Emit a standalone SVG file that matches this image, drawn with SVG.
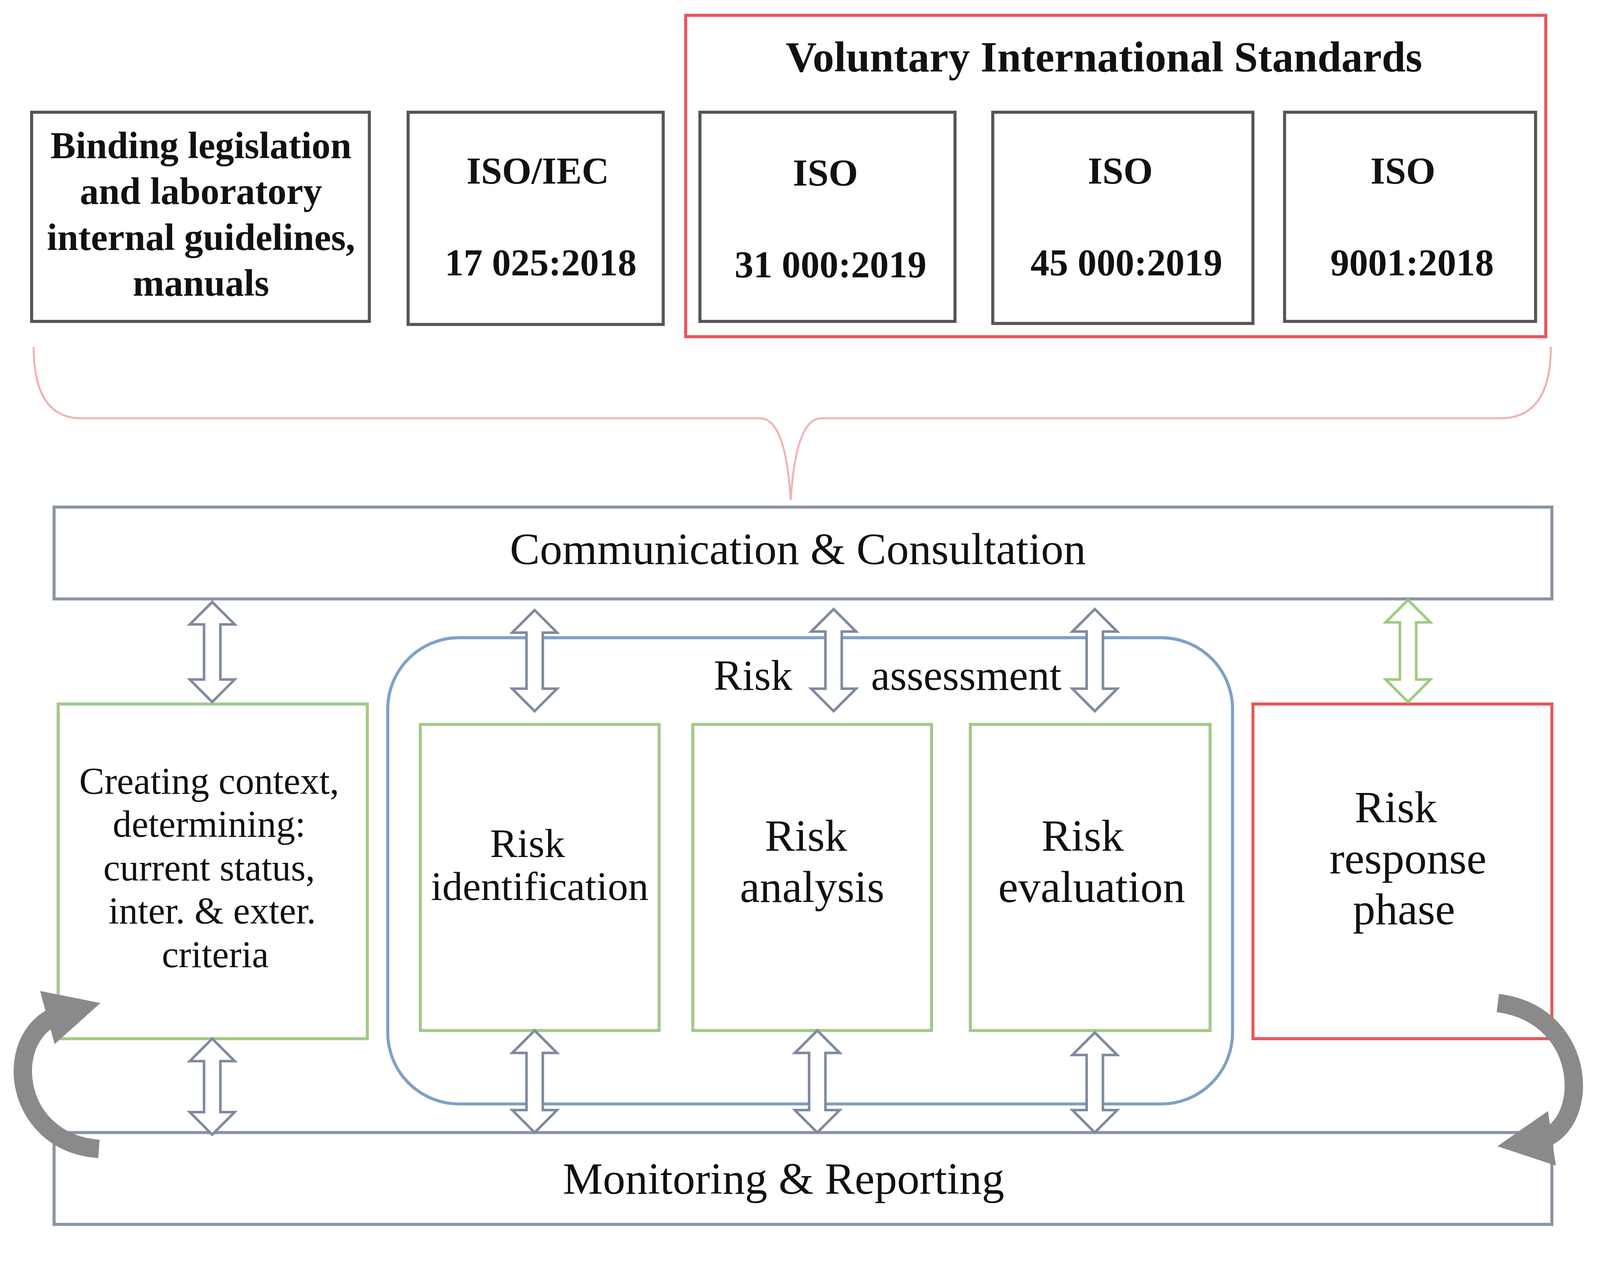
<svg xmlns="http://www.w3.org/2000/svg" width="4221" height="3264" viewBox="0 0 4221 3264">
<defs>
<style>
.dk{fill:#fff;stroke:#555;stroke-width:3}
.bt{font-family:"Liberation Serif",serif;font-weight:bold;font-size:37px;text-anchor:middle;fill:#111}
.rt{font-family:"Liberation Serif",serif;font-size:40px;text-anchor:middle;fill:#111}
.gr{fill:#fff;stroke:#a3c98a;stroke-width:3}
.bl{fill:none;stroke:#8a94a8;stroke-width:3}
.da{fill:#fff;stroke:#7f8aa0;stroke-width:2.5}
.ca{fill:none;stroke:#8a8a8a;stroke-width:18}
</style>
<marker id="ah" viewBox="0 0 10 10" refX="3" refY="5" markerWidth="3" markerHeight="3" orient="auto" markerUnits="strokeWidth"><path d="M0,0 L10,5 L0,10 Z" fill="#8a8a8a"/></marker>
</defs>
<rect width="4221" height="3264" fill="#fff"/>
<g transform="scale(2.612,2.612)">
<g id="binding"><rect class="dk" x="31" y="110" width="331" height="205"/>
<text class="bt" x="197" y="155">Binding legislation</text><text class="bt" x="197" y="200">and laboratory</text><text class="bt" x="197" y="245">internal guidelines,</text><text class="bt" x="197" y="290">manuals</text></g>
<g id="isoiec"><rect class="dk" x="400" y="110" width="250" height="208"/><text class="bt" x="527" y="180">ISO/IEC</text><text class="bt" x="530" y="270">17 025:2018</text></g>
<g id="voluntary"><rect x="672" y="15" width="843" height="315" fill="none" stroke="#e8575a" stroke-width="3"/>
<text class="bt" x="1082" y="70" style="font-size:42px">Voluntary International Standards</text></g>
<g id="iso31000"><rect class="dk" x="686" y="110" width="250" height="205"/><text class="bt" x="809" y="182">ISO</text><text class="bt" x="814" y="272">31 000:2019</text></g>
<g id="iso45000"><rect class="dk" x="973" y="110" width="255" height="207"/><text class="bt" x="1098" y="180">ISO</text><text class="bt" x="1104" y="270">45 000:2019</text></g>
<g id="iso9001"><rect class="dk" x="1259" y="110" width="246" height="205"/><text class="bt" x="1375" y="180">ISO</text><text class="bt" x="1384" y="270">9001:2018</text></g>
<g id="brace"><path d="M33,340 Q33,410 80,410 L745,410 Q770,410 775,490 Q780,410 805,410 L1470,410 Q1520,410 1520,340" fill="none" stroke="#f2b3b5" stroke-width="2"/></g>
<g id="communication"><rect class="bl" x="53" y="497" width="1468" height="90"/><text class="rt" x="782" y="553" style="font-size:44px">Communication &amp; Consultation</text></g>
<g id="riskassessment"><rect x="380" y="625" width="828" height="457" rx="70" fill="none" stroke="#7fa0c8" stroke-width="3"/>
<text class="rt" x="738" y="676" style="font-size:42px">Risk</text><text class="rt" x="947" y="676" style="font-size:42px">assessment</text></g>
<g id="context"><rect class="gr" x="57" y="690" width="303" height="328"/>
<text class="rt" x="205" y="778" style="font-size:37px">Creating context,</text><text class="rt" x="205" y="820" style="font-size:37px">determining:</text><text class="rt" x="205" y="863" style="font-size:37px">current status,</text><text class="rt" x="208" y="905" style="font-size:37px">inter. &amp; exter.</text><text class="rt" x="211" y="948" style="font-size:37px">criteria</text></g>
<g id="identification"><rect class="gr" x="412" y="710" width="234" height="300"/><text class="rt" x="517" y="840">Risk</text><text class="rt" x="529" y="882">identification</text></g>
<g id="analysis"><rect class="gr" x="679" y="710" width="234" height="300"/><text class="rt" x="790" y="834" style="font-size:44px">Risk</text><text class="rt" x="796" y="884" style="font-size:44px">analysis</text></g>
<g id="evaluation"><rect class="gr" x="951" y="710" width="235" height="300"/><text class="rt" x="1061" y="834" style="font-size:44px">Risk</text><text class="rt" x="1070" y="884" style="font-size:44px">evaluation</text></g>
<g id="response"><rect x="1228" y="690" width="293" height="328" fill="#fff" stroke="#e8575a" stroke-width="3"/><text class="rt" x="1368" y="806" style="font-size:44px">Risk</text><text class="rt" x="1380" y="856" style="font-size:44px">response</text><text class="rt" x="1376" y="906" style="font-size:44px">phase</text></g>
<g id="monitoring"><rect class="bl" x="53" y="1110" width="1468" height="90"/><text class="rt" x="768" y="1170" style="font-size:44px">Monitoring &amp; Reporting</text></g>
<g id="connectors">
<path class="da" d="M208,590 L230,612 L216,612 L216,666 L230,666 L208,688 L186,666 L200,666 L200,612 L186,612 Z"/>
<path class="da" d="M524,598 L546,620 L532,620 L532,675 L546,675 L524,697 L502,675 L516,675 L516,620 L502,620 Z"/>
<path class="da" d="M817,597 L839,619 L825,619 L825,675 L839,675 L817,697 L795,675 L809,675 L809,619 L795,619 Z"/>
<path class="da" d="M1073,597 L1095,619 L1081,619 L1081,675 L1095,675 L1073,697 L1051,675 L1065,675 L1065,619 L1051,619 Z"/>
<path class="da" style="stroke:#9bcb7c" d="M1380,588 L1402,610 L1388,610 L1388,666 L1402,666 L1380,688 L1358,666 L1372,666 L1372,610 L1358,610 Z"/>
<path class="da" d="M208,1018 L230,1040 L216,1040 L216,1090 L230,1090 L208,1112 L186,1090 L200,1090 L200,1040 L186,1040 Z"/>
<path class="da" d="M524,1010 L546,1032 L532,1032 L532,1088 L546,1088 L524,1110 L502,1088 L516,1088 L516,1032 L502,1032 Z"/>
<path class="da" d="M801,1010 L823,1032 L809,1032 L809,1088 L823,1088 L801,1110 L779,1088 L793,1088 L793,1032 L779,1032 Z"/>
<path class="da" d="M1073,1012 L1095,1034 L1081,1034 L1081,1088 L1095,1088 L1073,1110 L1051,1088 L1065,1088 L1065,1034 L1051,1034 Z"/>
<path class="ca" d="M97,1126 C10,1120 0,1010 62,993" marker-end="url(#ah)"/>
<path class="ca" d="M1468,983 C1560,995 1560,1110 1505,1118" marker-end="url(#ah)"/>
</g>
</g>
</svg>
